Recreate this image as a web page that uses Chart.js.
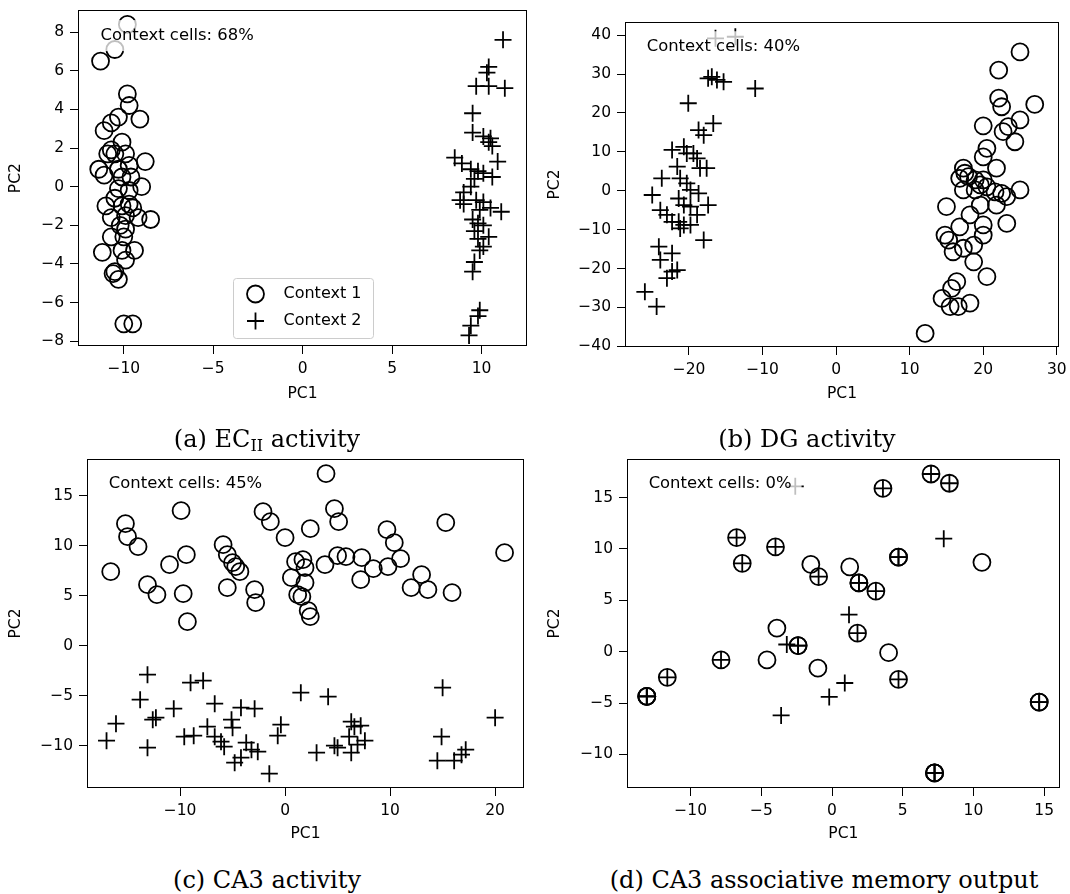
<!DOCTYPE html>
<html>
<head>
<meta charset="utf-8">
<script src="https://cdn.jsdelivr.net/npm/chart.js@4.4.0/dist/chart.umd.min.js"></script>
<style>
  html, body { margin: 0; padding: 0; background: #fff; }
  body { width: 1070px; height: 894px; position: relative; overflow: hidden; }
  .panel { position: absolute; }
  .caption { position: absolute; font-family: 'DejaVu Serif', serif; font-size: 24px; color: #000;
             white-space: nowrap; transform: translateX(-50%); line-height: 28px; }
  .caption sub { font-size: 16px; vertical-align: -4px; line-height: 0; }
</style>
</head>
<body>
<div class="panel" id="pa"><canvas></canvas></div>
<div class="panel" id="pb"><canvas></canvas></div>
<div class="panel" id="pc"><canvas></canvas></div>
<div class="panel" id="pd"><canvas></canvas></div>
<div class="caption" style="left:267px;top:425px">(a) EC<sub>II</sub> activity</div>
<div class="caption" style="left:807px;top:425px">(b) DG activity</div>
<div class="caption" style="left:267px;top:866px">(c) CA3 activity</div>
<div class="caption" style="left:824px;top:866px">(d) CA3 associative memory output</div>
<script>
// (a) EC_II activity
const EC_CIRCLES = [[-9.8,8.4],[-10.5,7.1],[-11.3,6.5],[-9.8,4.8],[-9.7,4.2],[-9.1,3.5],[-10.3,3.6],[-10.7,3.3],
  [-11.1,2.9],[-10.1,2.3],[-10.7,1.9],[-10.9,1.7],[-10.5,1.7],[-9.9,1.7],[-8.8,1.3],[-11.4,0.9],[-11.1,0.6],
  [-10.3,0.9],[-9.7,1.1],[-10.1,0.5],[-9.6,0.5],[-9.0,0.0],[-10.3,-0.1],[-9.7,-0.2],[-10.5,-0.6],[-11.0,-1.0],
  [-10.1,-1.0],[-9.7,-0.9],[-9.5,-1.1],[-10.7,-1.6],[-9.9,-1.5],[-9.2,-1.6],[-8.5,-1.7],[-10.2,-2.0],[-9.9,-2.2],
  [-10.7,-2.6],[-10.0,-2.6],[-11.2,-3.4],[-10.1,-3.3],[-9.4,-3.3],[-9.9,-3.8],[-10.5,-4.4],[-10.3,-4.8],
  [-10.6,-4.5],[-10.0,-7.1],[-9.5,-7.1]];
const EC_CROSSES = [[11.2,7.6],[10.4,6.2],[10.3,5.9],[9.7,5.2],[10.4,5.2],[11.3,5.1],[9.5,3.8],[9.5,2.8],
  [10.1,2.6],[10.5,2.5],[10.4,2.3],[10.6,2.1],[8.5,1.5],[8.9,1.2],[10.9,1.3],[9.4,0.9],[9.8,0.8],[10.1,0.7],
  [10.6,0.5],[9.6,0.4],[9.4,0.0],[9.0,-0.3],[8.8,-0.7],[9.7,-0.7],[10.1,-0.8],[9.0,-0.9],[9.9,-1.2],[11.1,-1.3],
  [10.5,-1.1],[9.5,-1.7],[9.8,-1.9],[10.1,-2.0],[9.6,-2.3],[10.4,-2.6],[9.8,-2.7],[10.1,-3.1],[9.9,-3.3],
  [9.6,-3.9],[9.5,-4.4],[9.9,-6.4],[9.8,-6.7],[9.4,-7.2],[9.3,-7.7]];
const EC_X_TICKS = [-10, -5, 0, 5, 10];
const EC_Y_TICKS = [-8, -6, -4, -2, 0, 2, 4, 6, 8];

// (b) DG activity
const DG_CIRCLES = [[25.0,35.7],[22.1,31.0],[22.1,23.8],[22.5,21.6],[27.0,22.2],[25.0,18.2],[23.4,16.5],
  [22.7,15.2],[24.3,12.6],[20.0,16.7],[20.5,10.9],[20.0,8.7],[21.8,5.8],[17.3,5.8],[17.5,4.5],[16.8,3.2],
  [18.0,3.6],[18.9,2.8],[19.6,1.5],[20.0,2.8],[17.3,0.2],[18.9,0.2],[20.5,1.0],[21.6,-0.3],[22.5,-0.7],
  [23.2,-1.5],[25.0,0.2],[21.8,-3.7],[19.6,-3.7],[15.0,-4.1],[18.2,-6.2],[20.0,-8.8],[23.2,-8.4],[16.8,-9.3],
  [14.8,-11.4],[15.3,-12.7],[20.0,-11.4],[15.9,-15.7],[17.3,-14.8],[18.7,-14.0],[18.7,-18.3],[20.5,-22.1],
  [16.4,-23.4],[15.7,-25.1],[14.4,-27.7],[15.5,-29.8],[16.6,-29.8],[18.2,-28.9],[12.1,-36.7]];
const DG_CROSSES = [[-16.4,39.2],[-13.7,39.6],[-16.9,29.3],[-16.2,28.5],[-15.3,28.0],[-17.4,28.9],[-11.0,26.3],
  [-20.1,22.5],[-16.7,17.3],[-18.7,15.6],[-18.0,14.3],[-22.3,10.5],[-20.7,11.3],[-20.3,9.6],[-19.4,9.6],
  [-18.9,8.3],[-21.6,6.2],[-18.5,5.8],[-17.6,5.8],[-23.7,3.2],[-21.2,3.2],[-20.3,1.9],[-25.0,-1.1],[-19.8,0.2],
  [-18.7,-0.7],[-21.4,-2.0],[-20.7,-3.7],[-17.4,-3.7],[-19.8,-4.1],[-23.9,-5.0],[-23.0,-6.2],[-18.9,-6.2],
  [-22.3,-8.0],[-21.4,-8.0],[-20.7,-8.8],[-21.2,-9.7],[-19.8,-8.8],[-18.0,-12.7],[-24.1,-14.4],[-22.3,-16.1],
  [-23.9,-17.8],[-21.6,-20.4],[-22.3,-20.8],[-23.0,-22.5],[-26.0,-26.0],[-24.4,-29.8]];
const DG_X_TICKS = [-20, -10, 0, 10, 20, 30];
const DG_Y_TICKS = [-40, -30, -20, -10, 0, 10, 20, 30, 40];

// (c) CA3 activity
const CA3_CIRCLES = [[-9.9,13.5],[-15.2,12.2],[-15.0,10.9],[-14.0,9.9],[-16.6,7.4],[-9.4,9.1],[-11.0,8.1],
  [-13.1,6.1],[-12.2,5.1],[-9.7,5.2],[-9.3,2.4],[-2.1,13.4],[-1.4,12.4],[0.0,10.8],[-5.9,10.1],[-5.5,9.1],
  [-5.0,8.3],[-4.7,7.9],[-4.3,7.4],[-5.5,5.8],[-2.9,5.6],[-2.8,4.3],[1.0,8.4],[0.6,6.8],[1.2,5.1],[3.9,17.2],
  [4.7,13.7],[5.1,12.4],[2.4,11.7],[9.7,11.6],[10.4,10.3],[11.0,8.7],[9.8,7.9],[8.4,7.7],[7.3,8.8],[7.2,6.6],
  [5.8,8.9],[5.0,9.0],[3.8,8.1],[1.9,7.8],[1.7,8.6],[1.9,6.3],[1.6,4.9],[2.2,3.5],[2.4,2.9],[15.3,12.3],
  [20.9,9.3],[13.0,7.1],[12.0,5.8],[13.6,5.6],[15.9,5.3]];
const CA3_CROSSES = [[-13.1,-2.9],[-9.0,-3.7],[-7.8,-3.5],[-13.8,-5.4],[1.5,-4.7],[4.1,-5.1],[15.0,-4.2],
  [20.0,-7.2],[-16.1,-7.8],[-17.0,-9.5],[-13.1,-10.2],[-12.6,-7.4],[-12.3,-7.2],[-10.6,-6.3],[-6.7,-5.8],
  [-4.2,-6.2],[-2.9,-6.3],[-5.1,-7.4],[-5.0,-8.2],[-7.4,-8.1],[-9.6,-9.1],[-8.7,-9.0],[-6.7,-9.1],[-6.1,-9.6],
  [-5.8,-10.1],[-3.7,-9.7],[-3.2,-10.4],[-2.6,-10.6],[-4.2,-11.2],[-4.8,-11.7],[-1.5,-12.8],[-0.4,-7.9],
  [-0.7,-9.0],[3.0,-10.7],[4.7,-10.0],[5.0,-10.2],[6.3,-7.6],[6.6,-8.1],[7.2,-8.0],[6.1,-9.1],[6.3,-10.7],
  [7.6,-9.5],[6.9,-9.9],[14.9,-9.1],[14.5,-11.5],[16.1,-11.5],[16.8,-10.9],[17.2,-10.4]];
const CA3_X_TICKS = [-10, 0, 10, 20];
const CA3_Y_TICKS = [-10, -5, 0, 5, 10, 15];

// (d) CA3 associative memory output (many outputs coincide for both contexts)
const MEM_CIRCLES = [[-13.1,-4.35],[-13.1,-4.35],[-13.1,-4.35],[-11.65,-2.5],[-7.85,-0.8],[-6.75,11.1],
  [-6.35,8.6],[-4.0,10.2],[-2.4,0.6],[-2.4,0.6],[-0.95,7.3],[1.9,6.7],[1.9,6.7],[3.1,5.9],[3.6,15.9],
  [4.7,9.2],[4.7,9.2],[1.8,1.8],[4.7,-2.7],[7.0,17.3],[8.3,16.4],[7.25,-11.8],[7.25,-11.8],[7.25,-11.8],
  [14.65,-4.9],[14.65,-4.9],[-1.5,8.5],[1.25,8.25],[-3.9,2.3],[-4.6,-0.8],[-1.0,-1.6],[4.0,-0.1],[10.6,8.7]];
const MEM_CROSSES = [[-13.1,-4.35],[-13.1,-4.35],[-13.1,-4.35],[-11.65,-2.5],[-7.85,-0.8],[-6.75,11.1],
  [-6.35,8.6],[-4.0,10.2],[-2.4,0.6],[-2.4,0.6],[-0.95,7.3],[1.9,6.7],[1.9,6.7],[3.1,5.9],[3.6,15.9],
  [4.7,9.2],[4.7,9.2],[1.8,1.8],[4.7,-2.7],[7.0,17.3],[8.3,16.4],[7.25,-11.8],[7.25,-11.8],[7.25,-11.8],
  [14.65,-4.9],[14.65,-4.9],[-2.6,16.1],[7.9,11.0],[1.2,3.6],[-3.2,0.7],[0.9,-3.05],[-0.2,-4.4],[-3.6,-6.2]];
const MEM_X_TICKS = [-10, -5, 0, 5, 10, 15];
const MEM_Y_TICKS = [-10, -5, 0, 5, 10, 15];

const SERIES_NAMES = ['Context 1', 'Context 2'];
const FONT_PX = 15.5;

Chart.defaults.font.family = '"DejaVu Sans", sans-serif';
Chart.defaults.font.size = FONT_PX;
Chart.defaults.color = '#000';

const tickText = (v) => (v < 0 ? '\u2212' + Math.abs(v) : String(v));

// white half-transparent label box, legend and axes frame, drawn over the points
const overlay = {
  id: 'overlay',
  afterDatasetsDraw(chart, args, opts) {
    const { ctx, chartArea: a } = chart;
    const w = a.right - a.left, h = a.bottom - a.top;
    ctx.save();
    ctx.font = '16.4px "DejaVu Sans"';
    const text = 'Context cells: ' + opts.pct + '%';
    const tw = ctx.measureText(text).width;
    const tx = a.left + 0.05 * w, ty = a.top + 0.05 * h;
    ctx.fillStyle = 'rgba(255,255,255,0.75)';
    ctx.fillRect(tx - 6, ty - 7, tw + 16, 31);
    ctx.fillStyle = '#000';
    ctx.textBaseline = 'top';
    ctx.fillText(text, tx, ty);

    if (opts.legend) {
      const lw = 140, lh = 60;
      const lx = (a.left + a.right) / 2 - lw / 2, ly = a.bottom - 8 - lh;
      ctx.fillStyle = 'rgba(255,255,255,0.8)';
      ctx.strokeStyle = '#cccccc';
      ctx.lineWidth = 1;
      ctx.beginPath();
      ctx.roundRect(Math.round(lx) + 0.5, Math.round(ly) + 0.5, lw, lh, 3);
      ctx.fill();
      ctx.stroke();
      ctx.strokeStyle = '#000';
      ctx.lineWidth = 1.8;
      const mx = lx + 23, r1 = ly + 16, r2 = ly + 43;
      ctx.beginPath();
      ctx.arc(mx, r1, 8.5, 0, Math.PI * 2);
      ctx.stroke();
      ctx.beginPath();
      ctx.moveTo(mx - 8.5, r2); ctx.lineTo(mx + 8.5, r2);
      ctx.moveTo(mx, r2 - 8.5); ctx.lineTo(mx, r2 + 8.5);
      ctx.stroke();
      ctx.fillStyle = '#000';
      ctx.font = '16px "DejaVu Sans"';
      ctx.textBaseline = 'middle';
      ctx.fillText(SERIES_NAMES[0], lx + 51, r1);
      ctx.fillText(SERIES_NAMES[1], lx + 51, r2);
    }

    ctx.strokeStyle = '#000';
    ctx.lineWidth = 1;
    ctx.strokeRect(Math.round(a.left) + 0.5, Math.round(a.top) + 0.5,
      Math.round(w) - 1, Math.round(h) - 1);
    ctx.restore();
  },
};

function axis(ticks, min, max, title, fit, titlePad) {
  return {
    type: 'linear',
    min, max,
    afterBuildTicks: (s) => { s.ticks = ticks.map((v) => ({ value: v })); },
    afterFit: fit,
    grid: { drawOnChartArea: false, drawTicks: true, tickLength: 8, color: '#000', lineWidth: 1 },
    border: { display: false },
    ticks: { callback: tickText, padding: 6, color: '#000', font: { size: FONT_PX } },
    title: { display: true, text: title, color: '#000', font: { size: FONT_PX }, padding: titlePad },
  };
}

function makePanel(p) {
  const holder = document.getElementById(p.id);
  const [L, T, W, H] = p.frame;
  Object.assign(holder.style, { left: L + 'px', top: T + 'px', width: W + 'px', height: H + 'px' });
  const canvas = holder.querySelector('canvas');
  canvas.width = W; canvas.height = H;
  canvas.style.width = W + 'px'; canvas.style.height = H + 'px';

  const yw = p.box[0] - L, padTop = p.box[1] - T;
  const padRight = L + W - p.box[2], xh = T + H - p.box[3];
  const pts = (arr) => arr.map(([x, y]) => ({ x, y }));
  // fixed axis sizes so the plot area lands exactly on p.box
  const fitX = (s) => { s.height = xh; s.paddingLeft = 0; s.paddingRight = 0; };
  const fitY = (s) => { s.width = yw; s.paddingTop = 0; s.paddingBottom = 0; };

  return new Chart(canvas.getContext('2d'), {
    type: 'scatter',
    data: {
      datasets: [
        { label: SERIES_NAMES[0], data: pts(p.circles), pointStyle: 'circle', pointRadius: 8.5,
          pointBorderWidth: 1.8, pointBorderColor: '#000', pointBackgroundColor: 'rgba(0,0,0,0)' },
        { label: SERIES_NAMES[1], data: pts(p.crosses), pointStyle: 'cross', pointRadius: 8.5,
          pointBorderWidth: 1.8, pointBorderColor: '#000', pointBackgroundColor: 'rgba(0,0,0,0)' },
      ],
    },
    options: {
      responsive: false,
      animation: false,
      devicePixelRatio: 1,
      events: [],
      layout: { padding: { top: padTop, right: padRight, left: 0, bottom: 0 } },
      plugins: {
        legend: { display: false },
        tooltip: { enabled: false },
        overlay: { pct: p.pct, legend: !!p.legend },
      },
      scales: {
        x: axis(p.xTicks, p.xr[0], p.xr[1], 'PC1', fitX, { bottom: p.xTitlePad }),
        y: axis(p.yTicks, p.yr[0], p.yr[1], 'PC2', fitY, { top: p.yTitlePad }),
      },
    },
    plugins: [overlay],
  });
}

makePanel({ id: 'pa', frame: [0, 0, 540, 410], box: [78, 8, 527, 346],
  xr: [-12.56, 12.54], yr: [-8.25, 9.13], xTicks: EC_X_TICKS, yTicks: EC_Y_TICKS,
  circles: EC_CIRCLES, crosses: EC_CROSSES, pct: 68, legend: true, xTitlePad: 7, yTitlePad: 7 });
makePanel({ id: 'pb', frame: [545, 0, 525, 410], box: [625, 22, 1059, 347],
  xr: [-28.7, 30.3], yr: [-40.2, 43.4], xTicks: DG_X_TICKS, yTicks: DG_Y_TICKS,
  circles: DG_CIRCLES, crosses: DG_CROSSES, pct: 40, xTitlePad: 7, yTitlePad: 1 });
makePanel({ id: 'pc', frame: [0, 440, 540, 410], box: [87, 459, 524, 788],
  xr: [-18.86, 22.75], yr: [-14.23, 18.67], xTicks: CA3_X_TICKS, yTicks: CA3_Y_TICKS,
  circles: CA3_CIRCLES, crosses: CA3_CROSSES, pct: 45, xTitlePad: 7, yTitlePad: 7 });
makePanel({ id: 'pd', frame: [545, 440, 525, 410], box: [627, 459, 1066, 788],
  xr: [-14.5, 16.1], yr: [-13.27, 18.76], xTicks: MEM_X_TICKS, yTicks: MEM_Y_TICKS,
  circles: MEM_CIRCLES, crosses: MEM_CROSSES, pct: 0, xTitlePad: 7, yTitlePad: 1 });
</script>
</body>
</html>
